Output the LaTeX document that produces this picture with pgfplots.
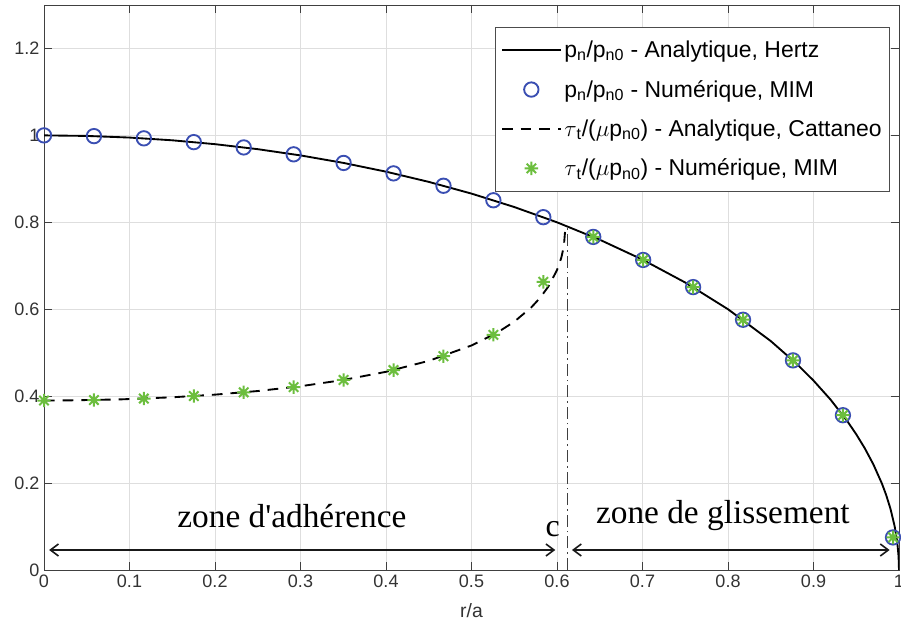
\documentclass[border=0pt]{standalone}
\usepackage{fontspec}
\setmainfont{Liberation Sans}
\newfontfamily\timesfont[Ligatures=TeXOff]{Liberation Serif}
\usepackage{pgfplots}
\pgfplotsset{compat=1.18}
\usetikzlibrary{arrows.meta}
\definecolor{mimblue}{RGB}{58,78,178}
\definecolor{mimgreen}{RGB}{108,190,62}
\pgfdeclareplotmark{mstar}{%
  \pgfpathmoveto{\pgfqpoint{-\pgfplotmarksize}{0pt}}\pgfpathlineto{\pgfqpoint{\pgfplotmarksize}{0pt}}%
  \pgfpathmoveto{\pgfqpoint{0pt}{-\pgfplotmarksize}}\pgfpathlineto{\pgfqpoint{0pt}{\pgfplotmarksize}}%
  \pgfpathmoveto{\pgfqpoint{-.7071\pgfplotmarksize}{-.7071\pgfplotmarksize}}\pgfpathlineto{\pgfqpoint{.7071\pgfplotmarksize}{.7071\pgfplotmarksize}}%
  \pgfpathmoveto{\pgfqpoint{-.7071\pgfplotmarksize}{.7071\pgfplotmarksize}}\pgfpathlineto{\pgfqpoint{.7071\pgfplotmarksize}{-.7071\pgfplotmarksize}}%
  \pgfusepathqstroke}
\pgfplotsset{mylegend/.style={legend image code/.code={\draw[mark repeat=2,mark phase=2,##1] plot coordinates {(0pt,0pt) (22pt,0pt) (44pt,0pt)};}}}
\begin{document}
\begin{tikzpicture}
\begin{axis}[
  scale only axis, width=641.25pt, height=423.75pt,
  xmin=0, xmax=1, ymin=0, ymax=1.3,
  xtick={0,0.1,0.2,0.3,0.4,0.5,0.6,0.7,0.8,0.9,1},
  ytick={0,0.2,0.4,0.6,0.8,1,1.2},
  grid=major, major grid style={black!13, line width=0.6pt},
  tick align=inside, major tick length=6pt,
  axis line style={black!75, line width=0.7pt},
  tick style={black!75, line width=0.7pt},
  ticklabel style={font=\fontsize{13.5}{16}\selectfont, text=black!80},
  /pgf/number format/assume math mode=true,
  xlabel={r/a}, xlabel style={font=\fontsize{14.5}{16}\selectfont, text=black!80, yshift=-5pt},
  legend style={at={(0.9895,0.961)}, anchor=north east, font=\fontsize{17.2}{20}\selectfont,
    draw=black!70, line width=0.7pt, inner xsep=4pt, inner ysep=8pt,
    row sep=11.5pt, /tikz/every even column/.append style={column sep=2pt}},
  legend cell align=left,
]
\addplot[black, line width=1.4pt, mylegend] coordinates {
(0,1) (0.05,0.99875) (0.1,0.99499) (0.15,0.98869) (0.2,0.97980) (0.25,0.96825)
(0.3,0.95394) (0.35,0.93675) (0.4,0.91652) (0.45,0.89303) (0.5,0.86603)
(0.55,0.83516) (0.6,0.8) (0.65,0.75993) (0.7,0.71414) (0.75,0.66144) (0.8,0.6)
(0.85,0.52678) (0.88,0.47497) (0.9,0.43589) (0.92,0.39192) (0.94,0.34117)
(0.95,0.31225) (0.96,0.28) (0.97,0.24310) (0.98,0.19900) (0.985,0.17255)
(0.99,0.14107) (0.995,0.09987) (0.998,0.06321) (0.9995,0.03162) (1,0)};
\addlegendentry{p\textsubscript{n}/p\textsubscript{n0} - Analytique, Hertz}
\addplot[only marks, mark=o, mark size=5.4pt, mimblue, line width=1.4pt, mylegend] coordinates {
(0,1) (0.0584,0.9983) (0.1168,0.9932) (0.1752,0.9845) (0.2336,0.9723) (0.2920,0.9564)
(0.3504,0.9366) (0.4088,0.9126) (0.4672,0.8841) (0.5256,0.8507) (0.5840,0.8118)
(0.6424,0.7664) (0.7008,0.7134) (0.7592,0.6509) (0.8176,0.5758) (0.8760,0.4823)
(0.9344,0.3562) (0.993,0.075)};
\addlegendentry{p\textsubscript{n}/p\textsubscript{n0} - Numérique, MIM}
\addplot[black, line width=1.4pt, dash pattern=on 8pt off 6pt, mylegend] coordinates {
(0,0.39) (0.03,0.3903) (0.09,0.3926) (0.15,0.3974) (0.2,0.4035) (0.25,0.4118)
(0.3,0.4228) (0.35,0.4372) (0.4,0.4560) (0.45,0.4812) (0.5,0.5166) (0.53,0.5460)
(0.55,0.5713) (0.57,0.6044) (0.58,0.6257) (0.59,0.6525) (0.6,0.6900) (0.605,0.7183)
(0.608,0.7446) (0.61,0.7924)};
\addlegendentry{$\tau$\textsubscript{t}/($\mu$p\textsubscript{n0}) - Analytique, Cattaneo}
\addplot[only marks, mark=mstar, mark size=5pt, mimgreen, line width=1.5pt, mylegend] coordinates {
(0,0.39) (0.0584,0.3911) (0.1168,0.3945) (0.1752,0.4002) (0.2336,0.4088) (0.2920,0.4208)
(0.3504,0.4373) (0.4088,0.4599) (0.4672,0.4919) (0.5256,0.5411) (0.5840,0.663)
(0.6424,0.7664) (0.7008,0.7134) (0.7592,0.6509) (0.8176,0.5758) (0.8760,0.4823)
(0.9344,0.3562) (0.993,0.075)};
\addlegendentry{$\tau$\textsubscript{t}/($\mu$p\textsubscript{n0}) - Numérique, MIM}
\addplot[forget plot, black!75, line width=0.9pt, dash pattern=on 9pt off 3pt on 1.2pt off 3pt] coordinates {(0.612,0) (0.612,0.79)};
\draw[{Straight Barb[length=6pt,width=9pt]}-{Straight Barb[length=6pt,width=9pt]}, line width=1.2pt, black!90]
  (axis cs:0.006,0.046) -- (axis cs:0.598,0.046);
\draw[{Straight Barb[length=6pt,width=9pt]}-{Straight Barb[length=6pt,width=9pt]}, line width=1.2pt, black!90]
  (axis cs:0.6175,0.046) -- (axis cs:0.989,0.046);
\node[font=\timesfont\fontsize{25}{27}\selectfont] at (axis cs:0.29,0.125) {zone d'adhérence};
\node[font=\timesfont\fontsize{25}{27}\selectfont] at (axis cs:0.794,0.125) {zone de glissement};
\node[font=\timesfont\fontsize{24}{26}\selectfont] at (axis cs:0.595,0.095) {c};
\end{axis}
\pgfresetboundingbox
\path[use as bounding box] ([shift={(-33pt,-47.25pt)}]current axis.south west) rectangle ([shift={(642.75pt,427.5pt)}]current axis.south west);
\end{tikzpicture}
\end{document}
